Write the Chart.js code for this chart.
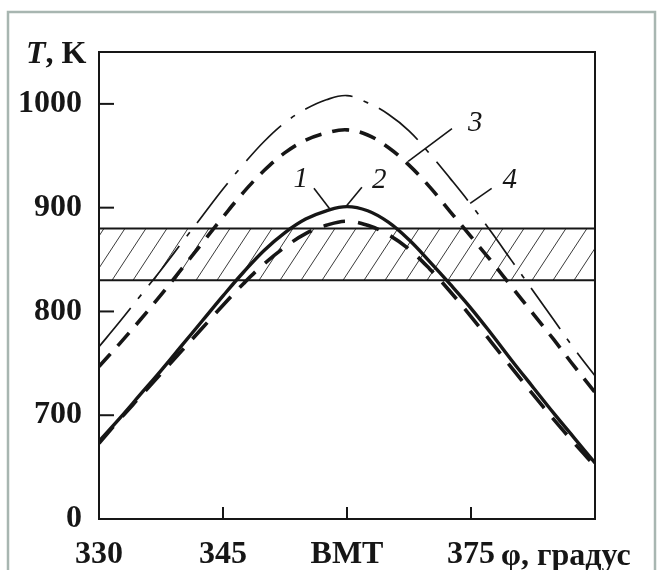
<!DOCTYPE html>
<html><head><meta charset="utf-8">
<script src="https://cdn.jsdelivr.net/npm/chart.js@4/dist/chart.umd.min.js"></script>
<style>html,body{margin:0;padding:0;background:#fff}canvas{display:block}</style>
</head><body>
<canvas id="c" width="659" height="570"></canvas>
<script>
// ---- data ----
const xValues = [330,332.5,335,337.5,340,342.5,345,347.5,350,352.5,355,357.5,360,362.5,365,367.5,370,372.5,375,377.5,380,382.5,385,387.5,390];
const curve1 = [675,697,720,743,767,791,815,838,859,876,889,897,901,897,886,869,848,826,803,778,752,727,702,678,654];
const curve2 = [673,696,718,740,762,784,806,827,846,862,875,883,887,883,874,860,841,819,795,770,745,720,696,673,651];
const curve3 = [747,769,792,816,841,866,891,915,936,953,965,972,975,970,958,941,920,896,872,848,823,798,773,747,722];
const curve4 = [766,790,815,840,866,892,918,942,964,982,995,1004,1008,1001,990,974,952,928,903,876,848,820,792,764,738];
const yTickValues = [600,700,800,900,1000];
const yTickLabels = ['0','700','800','900','1000'];
const xTickValues = [330,345,360,375];
const xTickLabels = ['330','345','ВМТ','375'];
const bandRange = [830,880];
const curveNames = ['1','2','3','4'];
const yTitle = ['T', ', K'];
const xTitle = 'φ, градус';
// annotation anchors in data units (label text, leader start, leader end)
const labelAnchors = [[354.4,927],[363.9,926],[375.5,981],[379.7,926]];
const leaderLines = [[356.0,918.7,357.9,899],[361.8,919.6,359.8,900.4],[372.7,976.2,367.4,944.6],[377.5,918.6,374.9,904.2]];

const INK = '#161616';
const SERIF = '"Liberation Serif", "DejaVu Serif", serif';

function pts(arr){ return xValues.map((x,i)=>({x:x, y:arr[i]})); }

const decor = {
  id:'decor',
  beforeDraw(chart){
    const ctx = chart.ctx;
    ctx.save();
    ctx.fillStyle = '#fff';
    ctx.fillRect(0,0,chart.width,chart.height);
    ctx.strokeStyle = '#a8b6b1';
    ctx.lineWidth = 2.5;
    ctx.strokeRect(8,12,647,620);
    ctx.restore();
  },
  beforeDatasetsDraw(chart){
    const ctx = chart.ctx, {left,right} = chart.chartArea, ys = chart.scales.y;
    const yT = ys.getPixelForValue(bandRange[1]), yB = ys.getPixelForValue(bandRange[0]);
    ctx.save();
    ctx.beginPath(); ctx.rect(left, yT, right-left, yB-yT); ctx.clip();
    ctx.strokeStyle = '#3a3a3a'; ctx.lineWidth = 1;
    for (let x0 = left-50; x0 < right+50; x0 += 21){
      ctx.beginPath(); ctx.moveTo(x0, yB); ctx.lineTo(x0+34, yT); ctx.stroke();
    }
    ctx.restore();
    ctx.save();
    ctx.strokeStyle = INK; ctx.lineWidth = 2;
    [yT,yB].forEach(y=>{ ctx.beginPath(); ctx.moveTo(left,y); ctx.lineTo(right,y); ctx.stroke(); });
    ctx.restore();
  },
  afterDatasetsDraw(chart){
    const ctx = chart.ctx, a = chart.chartArea, xs = chart.scales.x, ys = chart.scales.y;
    ctx.save();
    ctx.strokeStyle = INK; ctx.lineWidth = 2;
    ctx.strokeRect(a.left, a.top, a.right-a.left, a.bottom-a.top);
    // inward ticks
    yTickValues.slice(1).forEach(v=>{
      const p = ys.getPixelForValue(v);
      ctx.beginPath(); ctx.moveTo(a.left,p); ctx.lineTo(a.left+15,p); ctx.stroke();
    });
    xTickValues.slice(1).forEach(v=>{
      const p = xs.getPixelForValue(v);
      ctx.beginPath(); ctx.moveTo(p,a.bottom); ctx.lineTo(p,a.bottom-12); ctx.stroke();
    });
    // leaders
    ctx.lineWidth = 1.6;
    leaderLines.forEach(l=>{
      ctx.beginPath();
      ctx.moveTo(xs.getPixelForValue(l[0]), ys.getPixelForValue(l[1]));
      ctx.lineTo(xs.getPixelForValue(l[2]), ys.getPixelForValue(l[3]));
      ctx.stroke();
    });
    // curve labels
    ctx.fillStyle = INK;
    ctx.font = 'italic 29px ' + SERIF;
    ctx.textAlign = 'center'; ctx.textBaseline = 'middle';
    curveNames.forEach((n,i)=>{
      ctx.fillText(n, xs.getPixelForValue(labelAnchors[i][0]), ys.getPixelForValue(labelAnchors[i][1]));
    });
    // axis titles
    ctx.textAlign = 'left'; ctx.textBaseline = 'alphabetic';
    ctx.font = 'italic bold 32px ' + SERIF;
    ctx.fillText(yTitle[0], 26, 63);
    const w = ctx.measureText(yTitle[0]).width;
    ctx.font = 'bold 32px ' + SERIF;
    ctx.fillText(yTitle[1], 26 + w, 63);
    ctx.fillText(xTitle, 501, a.bottom + 46);
    ctx.restore();
  }
};

new Chart(document.getElementById('c'), {
  type: 'line',
  data: {
    datasets: [
      {data: pts(curve1), borderColor: INK, borderWidth: 3.4, pointRadius: 0, tension: 0.4},
      {data: pts(curve2), borderColor: INK, borderWidth: 3.6, borderDash: [22,13], pointRadius: 0, tension: 0.4},
      {data: pts(curve3), borderColor: INK, borderWidth: 3.6, borderDash: [17,11], pointRadius: 0, tension: 0.4},
      {data: pts(curve4), borderColor: INK, borderWidth: 1.7, borderDash: [50,12,5,12], pointRadius: 0, tension: 0.4}
    ]
  },
  options: {
    responsive: false,
    animation: false,
    layout: {padding: {top: 52, right: 64, left: 0, bottom: 0}},
    plugins: {legend: {display: false}, tooltip: {enabled: false}},
    scales: {
      x: {
        type: 'linear', min: 330, max: 390,
        afterBuildTicks: s => { s.ticks = xTickValues.map(v => ({value: v})); },
        afterFit: s => { s.height = 51; },
        grid: {display: false, drawTicks: false},
        border: {display: false},
        ticks: {padding: 17, autoSkip: false, maxRotation: 0, color: INK,
                font: {family: SERIF, size: 32, weight: 'bold'},
                callback: (v, i) => xTickLabels[i]}
      },
      y: {
        type: 'linear', min: 600, max: 1050,
        afterBuildTicks: s => { s.ticks = yTickValues.map(v => ({value: v})); },
        afterFit: s => { s.width = 99; },
        grid: {display: false, drawTicks: false},
        border: {display: false},
        ticks: {padding: 17, autoSkip: false, color: INK,
                font: {family: SERIF, size: 32, weight: 'bold'},
                callback: (v, i) => yTickLabels[i]}
      }
    }
  },
  plugins: [decor]
});
</script>
</body></html>
